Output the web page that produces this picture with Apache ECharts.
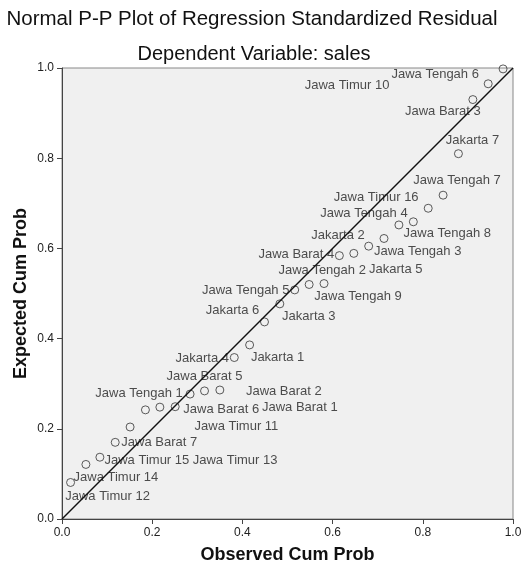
<!DOCTYPE html>
<html>
<head>
<meta charset="utf-8">
<script src="https://cdn.jsdelivr.net/npm/echarts@6.0.0/dist/echarts.min.js"></script>
<style>
  html, body { margin: 0; padding: 0; background: #fff; }
  #chart { width: 522px; height: 571px; }
</style>
</head>
<body>
<div id="chart"></div>
<script>
// observed vs expected cumulative probability, one point per case
const observed = [0.019, 0.053, 0.084, 0.118, 0.151, 0.185, 0.217, 0.251, 0.284, 0.316,
  0.350, 0.382, 0.416, 0.449, 0.483, 0.516, 0.548, 0.581, 0.615, 0.647,
  0.680, 0.714, 0.747, 0.779, 0.812, 0.845, 0.879, 0.911, 0.945, 0.978]
const expected = [0.081, 0.121, 0.137, 0.170, 0.204, 0.242, 0.248, 0.249, 0.277, 0.284,
  0.286, 0.358, 0.386, 0.437, 0.477, 0.508, 0.520, 0.522, 0.584, 0.589,
  0.605, 0.622, 0.652, 0.659, 0.689, 0.718, 0.810, 0.930, 0.965, 0.998]
const caseNames = ['Jawa Timur 12', 'Jawa Timur 14', 'Jawa Timur 15', 'Jawa Barat 7', 'Jawa Timur 13',
  'Jawa Timur 11', 'Jawa Barat 1', 'Jawa Barat 6', 'Jawa Tengah 1', 'Jawa Barat 5',
  'Jawa Barat 2', 'Jakarta 4', 'Jakarta 1', 'Jakarta 6', 'Jakarta 3',
  'Jawa Tengah 5', 'Jawa Tengah 2', 'Jawa Tengah 9', 'Jawa Barat 4', 'Jakarta 5',
  'Jawa Tengah 3', 'Jakarta 2', 'Jawa Tengah 4', 'Jawa Tengah 8', 'Jawa Timur 16',
  'Jawa Tengah 7', 'Jakarta 7', 'Jawa Barat 3', 'Jawa Tengah 6', 'Jawa Timur 10']
const diagonal = [[0, 0], [1, 1]]
const ticks = [0, 0.2, 0.4, 0.6, 0.8, 1.0]

// where each case label sits relative to its point (px)
const labelOffsets = [[37, 14], [30, 13], [47, 3], [44, 0], [105, 33],
  [91, 17], [140, 0], [46, 3], [-51, -1], [0, -14],
  [64, 1], [-32, 1], [28, 13], [-32, -11], [29, 13],
  [-49, 1], [13, -14], [34, 13], [-43, -1], [42, 16],
  [49, 5], [-46, -3], [-35, -12], [34, 12], [-52, -11],
  [14, -15], [14, -13], [-30, 12], [-53, -9], [-156, 17]]

const font = '"Liberation Sans", Arial, sans-serif'
const chart = echarts.init(document.getElementById('chart'))

function axis (name, gap) {
  return {
    type: 'value',
    min: ticks[0],
    max: ticks[ticks.length - 1],
    interval: 0.2,
    name: name,
    nameLocation: 'middle',
    nameGap: gap,
    nameMoveOverlap: false,
    nameTextStyle: { fontSize: 18, fontWeight: 'bold', color: '#111', fontFamily: font },
    axisLine: { show: true, lineStyle: { color: '#444', width: 1 } },
    axisTick: { show: true, inside: false, length: 5, lineStyle: { color: '#444' } },
    axisLabel: {
      formatter: v => v.toFixed(1),
      color: '#222',
      fontSize: 12,
      margin: 8,
      fontFamily: font
    },
    splitLine: { show: false }
  }
}

const points = observed.map((x, i) => ({
  name: caseNames[i],
  value: [x, expected[i]],
  label: { offset: labelOffsets[i] }
}))

const option = {
  animation: false,
  title: [
    {
      text: 'Normal P-P Plot of Regression Standardized Residual',
      left: 247,
      top: 4,
      textAlign: 'center',
      textStyle: { fontSize: 20.5, fontWeight: 'normal', color: '#111', fontFamily: font }
    },
    {
      text: 'Dependent Variable: sales',
      left: 249,
      top: 39,
      textAlign: 'center',
      textStyle: { fontSize: 20, fontWeight: 'normal', color: '#111', fontFamily: font }
    }
  ],
  grid: {
    left: 62,
    top: 68,
    right: 9,
    bottom: 52,
    outerBoundsMode: 'none',
    show: true,
    backgroundColor: '#f0f0f0',
    borderColor: '#888',
    borderWidth: 1
  },
  xAxis: axis('Observed Cum Prob', 27),
  yAxis: axis('Expected Cum Prob', 32),
  series: [
    {
      type: 'scatter',
      symbol: 'circle',
      symbolSize: 8,
      z: 2,
      itemStyle: { color: 'rgba(0,0,0,0)', borderColor: '#333', borderWidth: 1 },
      label: {
        show: true,
        position: 'inside',
        formatter: '{b}',
        fontSize: 13,
        color: '#222',
        fontFamily: font
      },
      emphasis: { disabled: true },
      data: points
    },
    {
      type: 'line',
      z: 5,
      symbol: 'none',
      silent: true,
      lineStyle: { color: '#111', width: 1.5 },
      data: diagonal
    }
  ]
}
chart.setOption(option)
</script>
</body>
</html>
